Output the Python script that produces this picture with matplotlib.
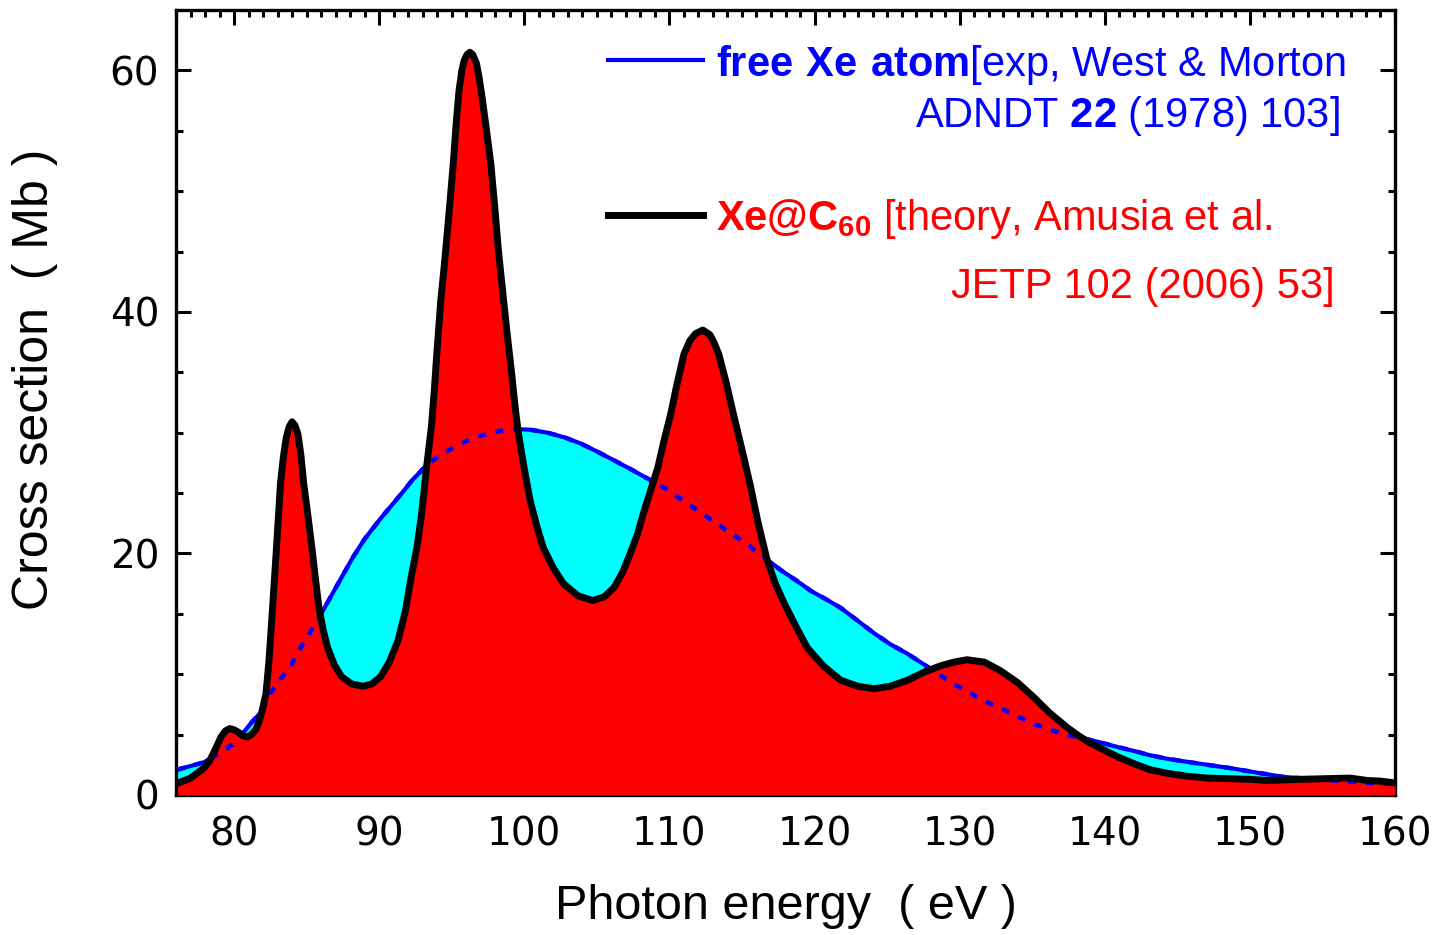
import matplotlib
matplotlib.use("Agg")
import matplotlib.pyplot as plt
from matplotlib.ticker import MultipleLocator

# free Xe atom (exp, West & Morton)
xe_e = [76.1, 77.0, 77.9, 78.5, 79.1, 79.6, 80.1, 80.6, 81.2, 81.9, 82.5, 83.2,
        84.0, 84.6, 85.3, 86.0, 86.7, 87.4, 88.2, 89.0, 90.1, 90.8, 91.5, 92.3,
        93.1, 93.7, 94.4, 95.2, 96.0, 97.0, 98.1, 99.3, 100.4, 101.6, 102.8,
        103.9, 105.0, 106.2, 107.3, 108.5, 109.7, 110.8, 111.9, 113.0, 114.2,
        115.4, 116.5, 117.7, 118.7, 119.75, 120.8, 121.8, 122.9, 124.1, 125.2,
        126.4, 127.3, 128.2, 129.4, 130.5, 131.6, 132.8, 134.0, 135.1, 136.2,
        137.3, 138.5, 139.7, 140.8, 142.0, 143.1, 144.3, 146.5, 148.8, 150.5,
        152.3, 154.0, 155.7, 157.5, 159.2, 160.0]
xe_cs = [2.1, 2.4, 2.7, 3.1, 3.5, 3.9, 4.4, 5.1, 6.0, 6.9, 8.4, 9.6,
         10.9, 12.2, 13.6, 15.0, 16.5, 18.0, 19.7, 21.2, 22.9, 23.9, 24.9, 26.1,
         27.1, 27.7, 28.3, 28.8, 29.3, 29.75, 30.1, 30.3, 30.25, 30.0, 29.6,
         29.1, 28.45, 27.7, 27.0, 26.2, 25.4, 24.5, 23.6, 22.7, 21.7,
         20.7, 19.7, 18.6, 17.8, 16.9, 16.2, 15.5, 14.5, 13.4, 12.5,
         11.7, 11.0, 10.3, 9.3, 8.6, 7.85, 7.2, 6.5, 5.9, 5.4,
         5.0, 4.7, 4.35, 4.0, 3.65, 3.3, 3.0, 2.6, 2.2, 1.85,
         1.5, 1.35, 1.2, 1.05, 0.95, 0.9]

# Xe@C60 (theory, Amusia et al.)
c60_e = [76.1, 77.0, 77.9, 78.3, 78.6, 79.1, 79.4, 79.7, 80.0, 80.3, 80.6, 80.9,
         81.2, 81.5, 81.7, 81.9, 82.2, 82.4, 82.6, 82.9, 83.2, 83.4, 83.6, 83.8,
         84.0, 84.2, 84.4, 84.6, 84.8, 85.05, 85.3, 85.6, 85.85, 86.15, 86.45,
         86.9, 87.4, 88.1, 88.9, 89.5, 90.1, 90.7, 91.3, 91.8, 92.2, 92.6, 92.9,
         93.3, 93.6, 93.8, 94.0, 94.25, 94.5, 94.8, 95.1, 95.3, 95.5, 95.7,
         95.85, 96.05, 96.25, 96.45, 96.7, 96.9, 97.1, 97.4, 97.7, 98.0, 98.2,
         98.5, 98.8, 99.1, 99.4, 99.6, 100.0, 100.4, 100.85, 101.3, 102.0,
         102.7, 103.7, 104.7, 105.5, 106.2, 106.8, 107.3, 107.8, 108.2, 108.7,
         109.2, 109.6, 110.1, 110.5, 111.0, 111.4, 111.8, 112.3, 112.8, 113.1,
         113.4, 113.9, 114.4, 115.0, 115.6, 116.1, 116.7, 117.3, 117.9, 118.7,
         119.5, 120.6, 121.8, 123.0, 124.1, 125.2, 126.4, 127.6, 128.7, 129.6,
         130.5, 131.7, 132.8, 134.0, 135.1, 136.2, 137.4, 138.2, 139.0, 140.15,
         141.0, 142.0, 143.1, 144.3, 145.7, 147.1, 148.5, 150.0, 151.2, 152.4,
         153.5, 155.2, 156.9, 158.1, 159.0, 160.0]
c60_cs = [0.97, 1.4, 2.2, 2.8, 3.5, 4.8, 5.3, 5.5, 5.4, 5.2, 4.9, 4.8,
          5.0, 5.4, 6.0, 6.8, 8.4, 11.0, 14.5, 20.0, 25.8, 28.0, 29.6, 30.5,
          30.9, 30.6, 29.9, 28.2, 25.8, 23.5, 21.1, 18.0, 15.5, 13.6, 12.2,
          10.8, 9.8, 9.2, 9.0, 9.2, 9.8, 11.0, 12.8, 15.2, 18.0, 20.5, 23.0,
          27.5, 30.5, 33.5, 37.0, 41.0, 44.0, 48.0, 52.2, 55.5, 58.3, 60.0,
          60.8, 61.3, 61.5, 61.3, 60.6, 59.3, 57.7, 55.0, 52.2, 48.2, 45.3,
          41.8, 38.4, 35.2, 31.8, 29.9, 27.0, 24.4, 22.3, 20.5, 18.8,
          17.5, 16.5, 16.1, 16.4, 17.2, 18.5, 20.0, 21.6, 23.3, 25.2,
          27.1, 29.2, 31.6, 33.9, 36.5, 37.6, 38.2, 38.5, 38.1, 37.4,
          36.5, 34.2, 31.6, 28.6, 25.5, 22.6, 19.6, 17.5, 15.9, 14.0,
          12.2, 10.7, 9.5, 9.0, 8.8, 9.0, 9.5, 10.2, 10.7, 11.0,
          11.2, 11.0, 10.3, 9.3, 8.1, 6.8, 5.6, 4.9, 4.3, 3.6,
          3.1, 2.6, 2.1, 1.8, 1.55, 1.4, 1.35, 1.3, 1.2, 1.25,
          1.3, 1.35, 1.4, 1.2, 1.15, 1.0]

font = "Liberation Sans"
plt.rcParams["font.family"] = font
plt.rcParams["mathtext.fontset"] = "custom"
plt.rcParams["mathtext.rm"] = font
plt.rcParams["mathtext.bf"] = font + ":bold"

W, H = 1437, 935
fig = plt.figure(figsize=(W / 100, H / 100), dpi=100)
ax = fig.add_axes([176 / W, 1 - 795 / H, (1395 - 176) / W, (795 - 10) / H])

ax.fill_between(xe_e, xe_cs, 0, color="#00ffff", lw=0, zorder=1)
ax.plot(xe_e, xe_cs, color="#0000ff", lw=3, zorder=2)
ax.fill_between(c60_e, c60_cs, 0, color="#ff0000", lw=0, zorder=3)
ax.plot(xe_e, xe_cs, color="#0000ff", lw=3.2, ls=(0, (1.8, 2.2)),
        dash_capstyle="butt", zorder=4)
ax.plot(c60_e, c60_cs, color="black", lw=5, zorder=5, solid_joinstyle="round")

ax.set_xlim(76, 160)
ax.set_ylim(0, 65)
ax.xaxis.set_major_locator(MultipleLocator(10))
ax.xaxis.set_minor_locator(MultipleLocator(1))
ax.yaxis.set_major_locator(MultipleLocator(20))
ax.yaxis.set_minor_locator(MultipleLocator(5))
ax.tick_params(which="both", direction="in", top=True, right=True, width=2.2)
ax.tick_params(which="major", length=11, labelsize=28, pad=12,
               labelfontfamily="DejaVu Sans")
ax.tick_params(axis="x", which="major", pad=15)
ax.tick_params(which="minor", length=5)
for s in ax.spines.values():
    s.set_linewidth(2.4)

ax.set_xlabel("Photon energy  ( eV )", fontsize=35)
ax.set_ylabel("Cross section  ( Mb )", fontsize=36)
ax.xaxis.set_label_coords(0.5, -0.113)
ax.yaxis.set_label_coords(-0.097, 0.529)

# legend drawn by hand
ax.plot([608, 703], [H - 60, H - 60], color="#0000ff", lw=3,
        transform=None, clip_on=False)
ax.plot([608, 703], [H - 215, H - 215], color="black", lw=5,
        transform=None, clip_on=False)
fs = 30
fig.text(716 / W, 1 - 76 / H, r"$\mathbf{free\ Xe\ atom}$[exp, West & Morton",
         color="#0000ff", fontsize=fs, va="baseline")
fig.text(1340 / W, 1 - 127 / H, r"ADNDT $\mathbf{22}$ (1978) 103]",
         color="#0000ff", fontsize=fs, va="baseline", ha="right")
fig.text(716 / W, 1 - 230 / H, r"$\mathbf{Xe@C_{60}}$ [theory, Amusia et al.",
         color="#ff0000", fontsize=fs, va="baseline")
fig.text(1335 / W, 1 - 298 / H, "JETP 102 (2006) 53]",
         color="#ff0000", fontsize=fs, va="baseline", ha="right")

fig.savefig("out.png", dpi=100)
